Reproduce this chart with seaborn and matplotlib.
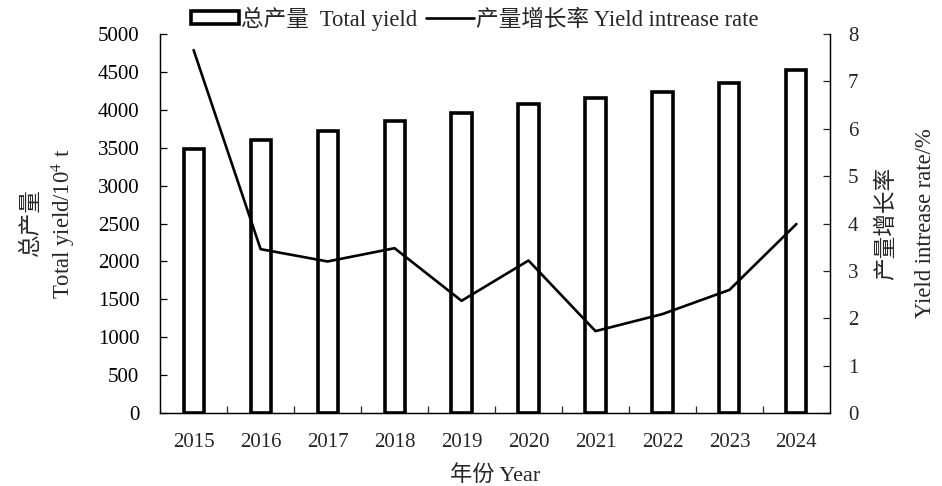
import numpy as np
import pandas as pd
import matplotlib.pyplot as plt
import seaborn as sns
from matplotlib.patches import Patch
from matplotlib.lines import Line2D

# data
years = ['2015', '2016', '2017', '2018', '2019', '2020', '2021', '2022', '2023', '2024']
total_yield = [3480, 3600, 3720, 3850, 3960, 4080, 4160, 4240, 4360, 4520]
increase_rate = [7.66, 3.46, 3.20, 3.48, 2.37, 3.22, 1.73, 2.09, 2.60, 3.99]

sns.set_style('ticks')
plt.rcParams['font.family'] = ['Liberation Serif', 'Noto Sans CJK SC']
plt.rcParams['mathtext.fontset'] = 'stix'
plt.rcParams['axes.linewidth'] = 0.9

df = pd.DataFrame({'year': years, 'yield': total_yield, 'rate': increase_rate})

fig = plt.figure(figsize=(9.42, 4.86), dpi=100)
ax = fig.add_axes([0.170, 0.150, 0.711, 0.780])

sns.barplot(data=df, x='year', y='yield', ax=ax, color='white', saturation=1,
            edgecolor='black', linewidth=2.6, width=0.3)
ax.set_xlim(-0.5, len(years) - 0.5)
ax.set_ylim(0, 5000)
ax.set_yticks(np.arange(0, 5001, 500))

ax2 = ax.twinx()
sns.lineplot(x=np.arange(len(years)), y=df['rate'], ax=ax2, color='black', linewidth=1.9)
ax2.set_ylim(0, 8)
ax2.set_yticks(np.arange(0, 9, 1))

# ticks
ax.tick_params(axis='y', direction='in', length=5, width=0.9, pad=15, labelsize=15, colors='black')
ax.tick_params(axis='x', which='major', length=0, pad=14, labelsize=15)
ax.set_xticks(np.arange(0.5, len(years) - 1, 1), minor=True)
ax.tick_params(axis='x', which='minor', direction='in', length=5, width=0.9)
ax2.tick_params(axis='y', direction='in', length=5, width=0.9, pad=13, labelsize=15)

for a in (ax, ax2):
    a.spines['top'].set_visible(False)
    for s in a.spines.values():
        s.set_color('black')

ax.set_xlabel('年份 Year', fontsize=16, labelpad=10)
ax.set_ylabel('总产量\nTotal yield/10$^{4}$ t', fontsize=16.3, labelpad=15, linespacing=1.3)
ax2.set_ylabel('产量增长率\nYield intrease rate/%', fontsize=16.3, labelpad=13, linespacing=2.1)

handles = [Patch(facecolor='white', edgecolor='black', linewidth=2.6),
           Line2D([0], [0], color='black', linewidth=1.9)]
fig.legend(handles, ['总产量  Total yield', '产量增长率 Yield intrease rate'],
           loc='center', bbox_to_anchor=(0.504, 0.962), ncol=2, frameon=False,
           fontsize=16.3, handlelength=2.1, handleheight=0.45, handletextpad=0.1,
           columnspacing=0.4)

fig.savefig('out.png', dpi=100)
